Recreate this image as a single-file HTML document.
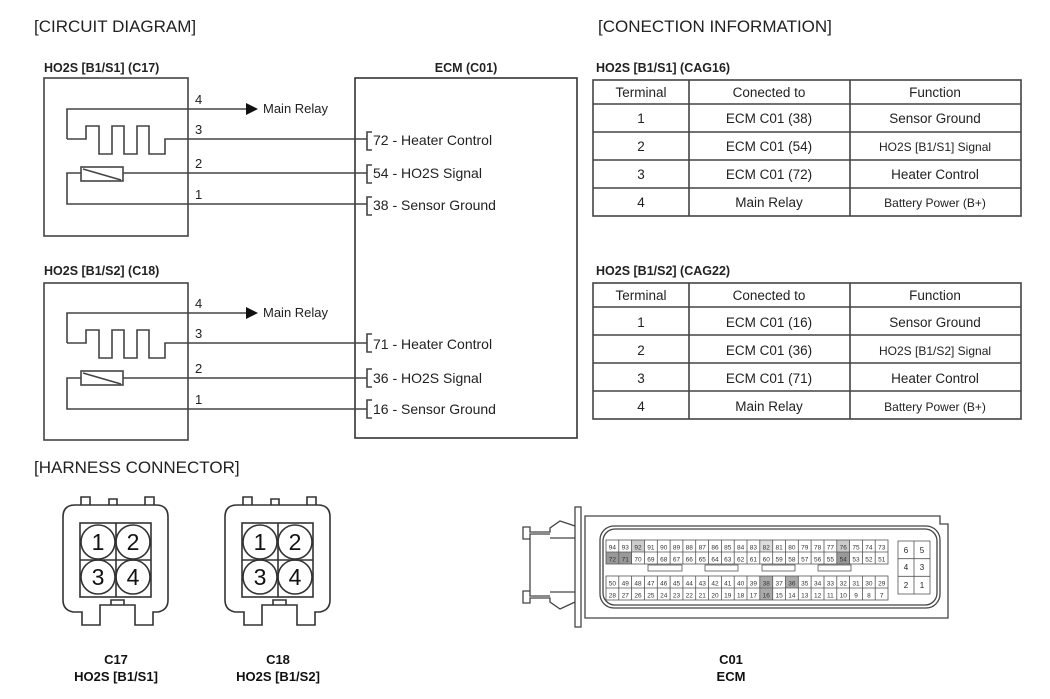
<!DOCTYPE html>
<html><head><meta charset="utf-8"><style>
html,body{margin:0;padding:0;background:#fff;}
svg{display:block;font-family:"Liberation Sans",Arial,sans-serif;}
</style></head><body>
<svg width="1050" height="699" viewBox="0 0 1050 699" xmlns="http://www.w3.org/2000/svg">
<g fill="#222">
<text x="34" y="32" font-size="17">[CIRCUIT DIAGRAM]</text>
<text x="598" y="32" font-size="17">[CONECTION INFORMATION]</text>
<text x="34" y="473" font-size="17">[HARNESS CONNECTOR]</text>
<g font-weight="bold" font-size="12.5">
<text x="44" y="72">HO2S [B1/S1] (C17)</text>
<text x="44" y="275">HO2S [B1/S2] (C18)</text>
<text x="466" y="72" text-anchor="middle">ECM (C01)</text>
<text x="596" y="72">HO2S [B1/S1] (CAG16)</text>
<text x="596" y="275">HO2S [B1/S2] (CAG22)</text>
</g>
</g>

<rect x="355" y="78" width="222" height="360" fill="none" stroke="#333" stroke-width="1.6"/>

<g fill="none" stroke="#444" stroke-width="1.6">
<rect x="44" y="78" width="144" height="158"/>
<path d="M67 139 V109 H246"/>
<path d="M67 139 H86 V126 H99 V154 H112 V126 H124 V154 H137 V126 H149 V154 H165 V139 H367"/>
<rect x="81" y="167" width="42" height="14"/>
<path d="M83 169 L121 180"/>
<path d="M123 173 H367 M81 173 H67 V204 H367"/>
<path d="M372 132 H367 V150 H372 M372 165 H367 V183 H372 M372 197 H367 V215 H372"/>
</g>
<path d="M246 103 L258 109 L246 115 Z" fill="#111"/>
<g fill="#222" font-size="13">
<text x="195" y="104">4</text><text x="195" y="134">3</text><text x="195" y="168">2</text><text x="195" y="199">1</text>
<text x="263" y="113">Main Relay</text>
<text x="373" y="145" font-size="14">72 - Heater Control</text>
<text x="373" y="178" font-size="14">54 - HO2S Signal</text>
<text x="373" y="210" font-size="14">38 - Sensor Ground</text>
</g>

<g fill="none" stroke="#444" stroke-width="1.6">
<rect x="44" y="283" width="144" height="157"/>
<path d="M67 343 V313 H246"/>
<path d="M67 343 H86 V330 H99 V358 H112 V330 H124 V358 H137 V330 H149 V358 H165 V343 H367"/>
<rect x="81" y="371" width="42" height="14"/>
<path d="M83 373 L121 384"/>
<path d="M123 378 H367 M81 378 H67 V409 H367"/>
<path d="M372 334 H367 V352 H372 M372 369 H367 V387 H372 M372 400 H367 V418 H372"/>
</g>
<path d="M246 307 L258 313 L246 319 Z" fill="#111"/>
<g fill="#222" font-size="13">
<text x="195" y="308">4</text><text x="195" y="338">3</text><text x="195" y="373">2</text><text x="195" y="404">1</text>
<text x="263" y="317">Main Relay</text>
<text x="373" y="349" font-size="14">71 - Heater Control</text>
<text x="373" y="383" font-size="14">36 - HO2S Signal</text>
<text x="373" y="414" font-size="14">16 - Sensor Ground</text>
</g>

<g fill="none" stroke="#444" stroke-width="1.6">
<rect x="593" y="80" width="428" height="136"/>
<path d="M593 104 H1021 M593 132 H1021 M593 160 H1021 M593 188 H1021 M689 80 V216 M850 80 V216"/>
<rect x="593" y="283" width="428" height="136"/>
<path d="M593 307 H1021 M593 335 H1021 M593 363 H1021 M593 391 H1021 M689 283 V419 M850 283 V419"/>
</g>
<g fill="#222" font-size="13.5" text-anchor="middle">
<text x="641" y="97">Terminal</text><text x="769" y="97">Conected to</text><text x="935" y="97">Function</text>
<text x="641" y="123">1</text><text x="769" y="123">ECM C01 (38)</text><text x="935" y="123">Sensor Ground</text>
<text x="641" y="151">2</text><text x="769" y="151">ECM C01 (54)</text><text x="935" y="151" font-size="12">HO2S [B1/S1] Signal</text>
<text x="641" y="179">3</text><text x="769" y="179">ECM C01 (72)</text><text x="935" y="179">Heater Control</text>
<text x="641" y="207">4</text><text x="769" y="207">Main Relay</text><text x="935" y="207" font-size="12">Battery Power (B+)</text>
<text x="641" y="300">Terminal</text><text x="769" y="300">Conected to</text><text x="935" y="300">Function</text>
<text x="641" y="327">1</text><text x="769" y="327">ECM C01 (16)</text><text x="935" y="327">Sensor Ground</text>
<text x="641" y="355">2</text><text x="769" y="355">ECM C01 (36)</text><text x="935" y="355" font-size="12">HO2S [B1/S2] Signal</text>
<text x="641" y="383">3</text><text x="769" y="383">ECM C01 (71)</text><text x="935" y="383">Heater Control</text>
<text x="641" y="411">4</text><text x="769" y="411">Main Relay</text><text x="935" y="411" font-size="12">Battery Power (B+)</text>
</g>

<g>
<g fill="none" stroke="#333" stroke-width="1.6">
<path d="M81 505 V497 H90 V505 M109 505 V499 H117 V505 M145 505 V497 H154 V505"/>
<path d="M75 505 H156 Q168 505 168 517 V600 Q168 610 158 612 H153 V625 H135 V605 H100 V625 H82 V612 H73 Q63 610 63 600 V517 Q63 505 75 505 Z"/>
<path d="M111 605 V600 H124 V605"/>
<rect x="80" y="523" width="71" height="74"/>
<path d="M116 523 V597 M80 560 H151"/>
<circle cx="98" cy="542" r="17"/><circle cx="133" cy="542" r="17"/>
<circle cx="98" cy="577" r="17"/><circle cx="133" cy="577" r="17"/>
</g>
<g fill="#111" font-size="23" text-anchor="middle">
<text x="98" y="550">1</text><text x="133" y="550">2</text><text x="98" y="585">3</text><text x="133" y="585">4</text>
</g>
</g>
<g transform="translate(162,0)">
<g fill="none" stroke="#333" stroke-width="1.6">
<path d="M81 505 V497 H90 V505 M109 505 V499 H117 V505 M145 505 V497 H154 V505"/>
<path d="M75 505 H156 Q168 505 168 517 V600 Q168 610 158 612 H153 V625 H135 V605 H100 V625 H82 V612 H73 Q63 610 63 600 V517 Q63 505 75 505 Z"/>
<path d="M111 605 V600 H124 V605"/>
<rect x="80" y="523" width="71" height="74"/>
<path d="M116 523 V597 M80 560 H151"/>
<circle cx="98" cy="542" r="17"/><circle cx="133" cy="542" r="17"/>
<circle cx="98" cy="577" r="17"/><circle cx="133" cy="577" r="17"/>
</g>
<g fill="#111" font-size="23" text-anchor="middle">
<text x="98" y="550">1</text><text x="133" y="550">2</text><text x="98" y="585">3</text><text x="133" y="585">4</text>
</g>
</g>
<g fill="#111" font-weight="bold" font-size="13" text-anchor="middle">
<text x="116" y="664">C17</text><text x="116" y="681">HO2S [B1/S1]</text>
<text x="278" y="664">C18</text><text x="278" y="681">HO2S [B1/S2]</text>
<text x="731" y="664">C01</text><text x="731" y="681">ECM</text>
</g>

<g fill="none" stroke="#444" stroke-width="1.3">
<path d="M585 516 H940 V524 H948 V618 H585 Z"/>
<rect x="575" y="507" width="6" height="120" fill="#fff"/>
<path d="M575 526 L560 521 L550 528 V532 H530 V527 H523 V539 H530 V534 H550 M575 538 H550 M575 602 L560 609 L550 602 V598 H530 V603 H523 V591 H530 V596 H550 M575 592 H550 M530 539 V591"/>
<rect x="600" y="526" width="340" height="82" rx="14"/>
<rect x="603" y="529" width="334" height="76" rx="12"/>
</g>
<g stroke="none">
<rect x="606" y="552" width="25.6" height="12" fill="#999"/>
<rect x="836.8" y="552" width="12.8" height="12" fill="#999"/>
<rect x="631.6" y="540" width="12.8" height="12" fill="#ccc"/>
<rect x="836.8" y="540" width="12.8" height="12" fill="#ccc"/>
<rect x="759.8" y="540" width="12.8" height="12" fill="#ddd"/>
<rect x="759.8" y="576" width="12.8" height="24" fill="#aaa"/>
<rect x="785.5" y="576" width="12.8" height="12" fill="#aaa"/>
</g>
<g fill="none" stroke="#555" stroke-width="0.8">
<rect x="606" y="540" width="282" height="24"/>
<rect x="606" y="576" width="282" height="24"/>
<path d="M606 552 H888 M606 588 H888"/>
<path d="M618.8 540V564M631.6 540V564M644.5 540V564M657.3 540V564M670.1 540V564M682.9 540V564M695.7 540V564M708.6 540V564M721.4 540V564M734.2 540V564M747 540V564M759.8 540V564M772.7 540V564M785.5 540V564M798.3 540V564M811.1 540V564M824 540V564M836.8 540V564M849.6 540V564M862.4 540V564M875.2 540V564"/>
<path d="M618.8 576V600M631.6 576V600M644.5 576V600M657.3 576V600M670.1 576V600M682.9 576V600M695.7 576V600M708.6 576V600M721.4 576V600M734.2 576V600M747 576V600M759.8 576V600M772.7 576V600M785.5 576V600M798.3 576V600M811.1 576V600M824 576V600M836.8 576V600M849.6 576V600M862.4 576V600M875.2 576V600"/>
<rect x="648" y="565" width="34" height="6"/><rect x="705" y="565" width="33" height="6"/>
<rect x="762" y="565" width="33" height="6"/><rect x="818" y="565" width="33" height="6"/>
<rect x="898" y="541" width="32" height="53"/>
<path d="M914 541 V594 M898 558.7 H930 M898 576.3 H930"/>
</g>
<g fill="#333" font-size="6.5" text-anchor="middle">
<text y="549.5"><tspan x="612.4">94</tspan><tspan x="625.2">93</tspan><tspan x="638">92</tspan><tspan x="650.9">91</tspan><tspan x="663.7">90</tspan><tspan x="676.5">89</tspan><tspan x="689.3">88</tspan><tspan x="702.2">87</tspan><tspan x="715">86</tspan><tspan x="727.8">85</tspan><tspan x="740.6">84</tspan><tspan x="753.4">83</tspan><tspan x="766.3">82</tspan><tspan x="779.1">81</tspan><tspan x="791.9">80</tspan><tspan x="804.7">79</tspan><tspan x="817.6">78</tspan><tspan x="830.4">77</tspan><tspan x="843.2">76</tspan><tspan x="856">75</tspan><tspan x="868.9">74</tspan><tspan x="881.7">73</tspan></text>
<text y="561.5"><tspan x="612.4">72</tspan><tspan x="625.2">71</tspan><tspan x="638">70</tspan><tspan x="650.9">69</tspan><tspan x="663.7">68</tspan><tspan x="676.5">67</tspan><tspan x="689.3">66</tspan><tspan x="702.2">65</tspan><tspan x="715">64</tspan><tspan x="727.8">63</tspan><tspan x="740.6">62</tspan><tspan x="753.4">61</tspan><tspan x="766.3">60</tspan><tspan x="779.1">59</tspan><tspan x="791.9">58</tspan><tspan x="804.7">57</tspan><tspan x="817.6">56</tspan><tspan x="830.4">55</tspan><tspan x="843.2">54</tspan><tspan x="856">53</tspan><tspan x="868.9">52</tspan><tspan x="881.7">51</tspan></text>
<text y="585.5"><tspan x="612.4">50</tspan><tspan x="625.2">49</tspan><tspan x="638">48</tspan><tspan x="650.9">47</tspan><tspan x="663.7">46</tspan><tspan x="676.5">45</tspan><tspan x="689.3">44</tspan><tspan x="702.2">43</tspan><tspan x="715">42</tspan><tspan x="727.8">41</tspan><tspan x="740.6">40</tspan><tspan x="753.4">39</tspan><tspan x="766.3">38</tspan><tspan x="779.1">37</tspan><tspan x="791.9">36</tspan><tspan x="804.7">35</tspan><tspan x="817.6">34</tspan><tspan x="830.4">33</tspan><tspan x="843.2">32</tspan><tspan x="856">31</tspan><tspan x="868.9">30</tspan><tspan x="881.7">29</tspan></text>
<text y="597.5"><tspan x="612.4">28</tspan><tspan x="625.2">27</tspan><tspan x="638">26</tspan><tspan x="650.9">25</tspan><tspan x="663.7">24</tspan><tspan x="676.5">23</tspan><tspan x="689.3">22</tspan><tspan x="702.2">21</tspan><tspan x="715">20</tspan><tspan x="727.8">19</tspan><tspan x="740.6">18</tspan><tspan x="753.4">17</tspan><tspan x="766.3">16</tspan><tspan x="779.1">15</tspan><tspan x="791.9">14</tspan><tspan x="804.7">13</tspan><tspan x="817.6">12</tspan><tspan x="830.4">11</tspan><tspan x="843.2">10</tspan><tspan x="856">9</tspan><tspan x="868.9">8</tspan><tspan x="881.7">7</tspan></text>
</g>
<g fill="#222" font-size="8" text-anchor="middle">
<text x="906" y="553">6</text><text x="922" y="553">5</text>
<text x="906" y="570">4</text><text x="922" y="570">3</text>
<text x="906" y="588">2</text><text x="922" y="588">1</text>
</g>
</svg>
</body></html>
